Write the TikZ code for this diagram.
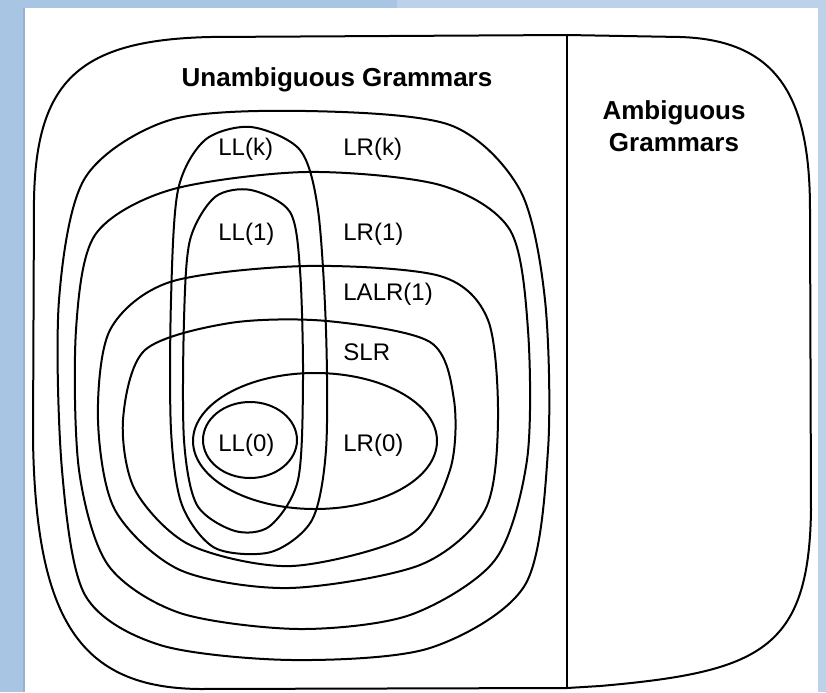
\documentclass[tikz,border=0pt]{standalone}
\usepackage{fontspec}
\setmainfont{Liberation Sans}
\definecolor{sidebar}{RGB}{168,198,228}
\definecolor{sidebarlight}{RGB}{188,210,234}
\definecolor{panelshade}{RGB}{150,178,208}
\begin{document}
\begin{tikzpicture}[
      x=0.5pt, y=-0.5pt,
      line join=round,
      ring/.style={draw, line width=1pt},
      lbl/.style={anchor=base west, inner sep=0pt, font=\fontsize{12pt}{14pt}\selectfont},
      heading/.style={inner sep=0pt, font=\fontsize{13pt}{16pt}\selectfont\bfseries}]
      \useasboundingbox (0,0) rectangle (826,692);
      % page behind the sheet
      \fill[sidebar] (0,0) rectangle (826,692);
      \fill[sidebarlight] (397,0) rectangle (826,8);
      \fill[sidebarlight] (818,0) rectangle (826,692);
      \fill[panelshade] (23,8) rectangle (25,692);
      \fill[white] (25,8) rectangle (818,692);
      % all grammars, split in two
      \coordinate (divtop) at (567,35);
      \coordinate (divbot) at (567,688);
      \draw[ring] (divtop) -- (210,37) .. controls (80,40) and (36,80) .. (34,200)
        -- (33,440) .. controls (36,620) and (80,688) .. (200,689) -- (divbot)
        -- (600,686) .. controls (760,672) and (809,650) .. (811,510)
        -- (810,210) .. controls (810,100) and (780,40) .. (680,37) -- cycle;
      \draw[ring] (divtop) -- (divbot);
      % LR family
      \draw[ring] plot[smooth cycle] coordinates {(306,111) (450,125) (520,190)
        (545,300) (548,450) (525,585) (430,648) (292,660) (160,645) (85,595)
        (62,470) (59,300) (85,178) (170,120)};
      \draw[ring] plot[smooth cycle] coordinates {(306,172) (440,185) (510,230)
        (528,330) (527,460) (495,560) (410,615) (299,629) (180,613) (108,565)
        (79,470) (76,330) (95,235) (170,190)};
      \draw[ring] plot[smooth cycle] coordinates {(306,266) (440,276) (488,320)
        (498,420) (485,510) (420,565) (289,588) (180,570) (115,510) (98,420)
        (110,330) (170,282)};
      \draw[ring] plot[smooth cycle] coordinates {(327,321) (430,342) (454,400)
        (450,470) (410,535) (292,566) (190,545) (135,490) (123,420) (145,350)
        (230,323)};
      \draw[ring] (315,441) ellipse [x radius=61pt, y radius=34pt];
      % LL family
      \draw[ring] plot[smooth cycle] coordinates {(251,127) (300,150) (318,210)
        (326,330) (326,450) (312,520) (271,552) (215,548) (182,505) (171,430)
        (171,300) (178,190) (205,140)};
      \draw[ring] plot[smooth cycle] coordinates {(251,190) (290,212) (300,270)
        (303,380) (298,480) (270,526) (235,531) (197,505) (184,440) (184,320)
        (190,240) (215,197)};
      \draw[ring] (250,440) ellipse [x radius=23.5pt, y radius=19pt];
      % names of the classes
      \node[heading, anchor=base] (unamb) at (337,86) {Unambiguous Grammars};
      \node[heading, align=center] (amb) at (674,126) {Ambiguous\\Grammars};
      \node[lbl] (llk) at (218,155) {LL(k)};
      \node[lbl] (lrk) at (343,155) {LR(k)};
      \node[lbl] (llone) at (218,240) {LL(1)};
      \node[lbl] (lrone) at (343,240) {LR(1)};
      \node[lbl] (lalr) at (343,300) {LALR(1)};
      \node[lbl] (slr) at (343,360) {SLR};
      \node[lbl] (llzero) at (218,451) {LL(0)};
      \node[lbl] (lrzero) at (343,451) {LR(0)};
    \end{tikzpicture}
\end{document}
